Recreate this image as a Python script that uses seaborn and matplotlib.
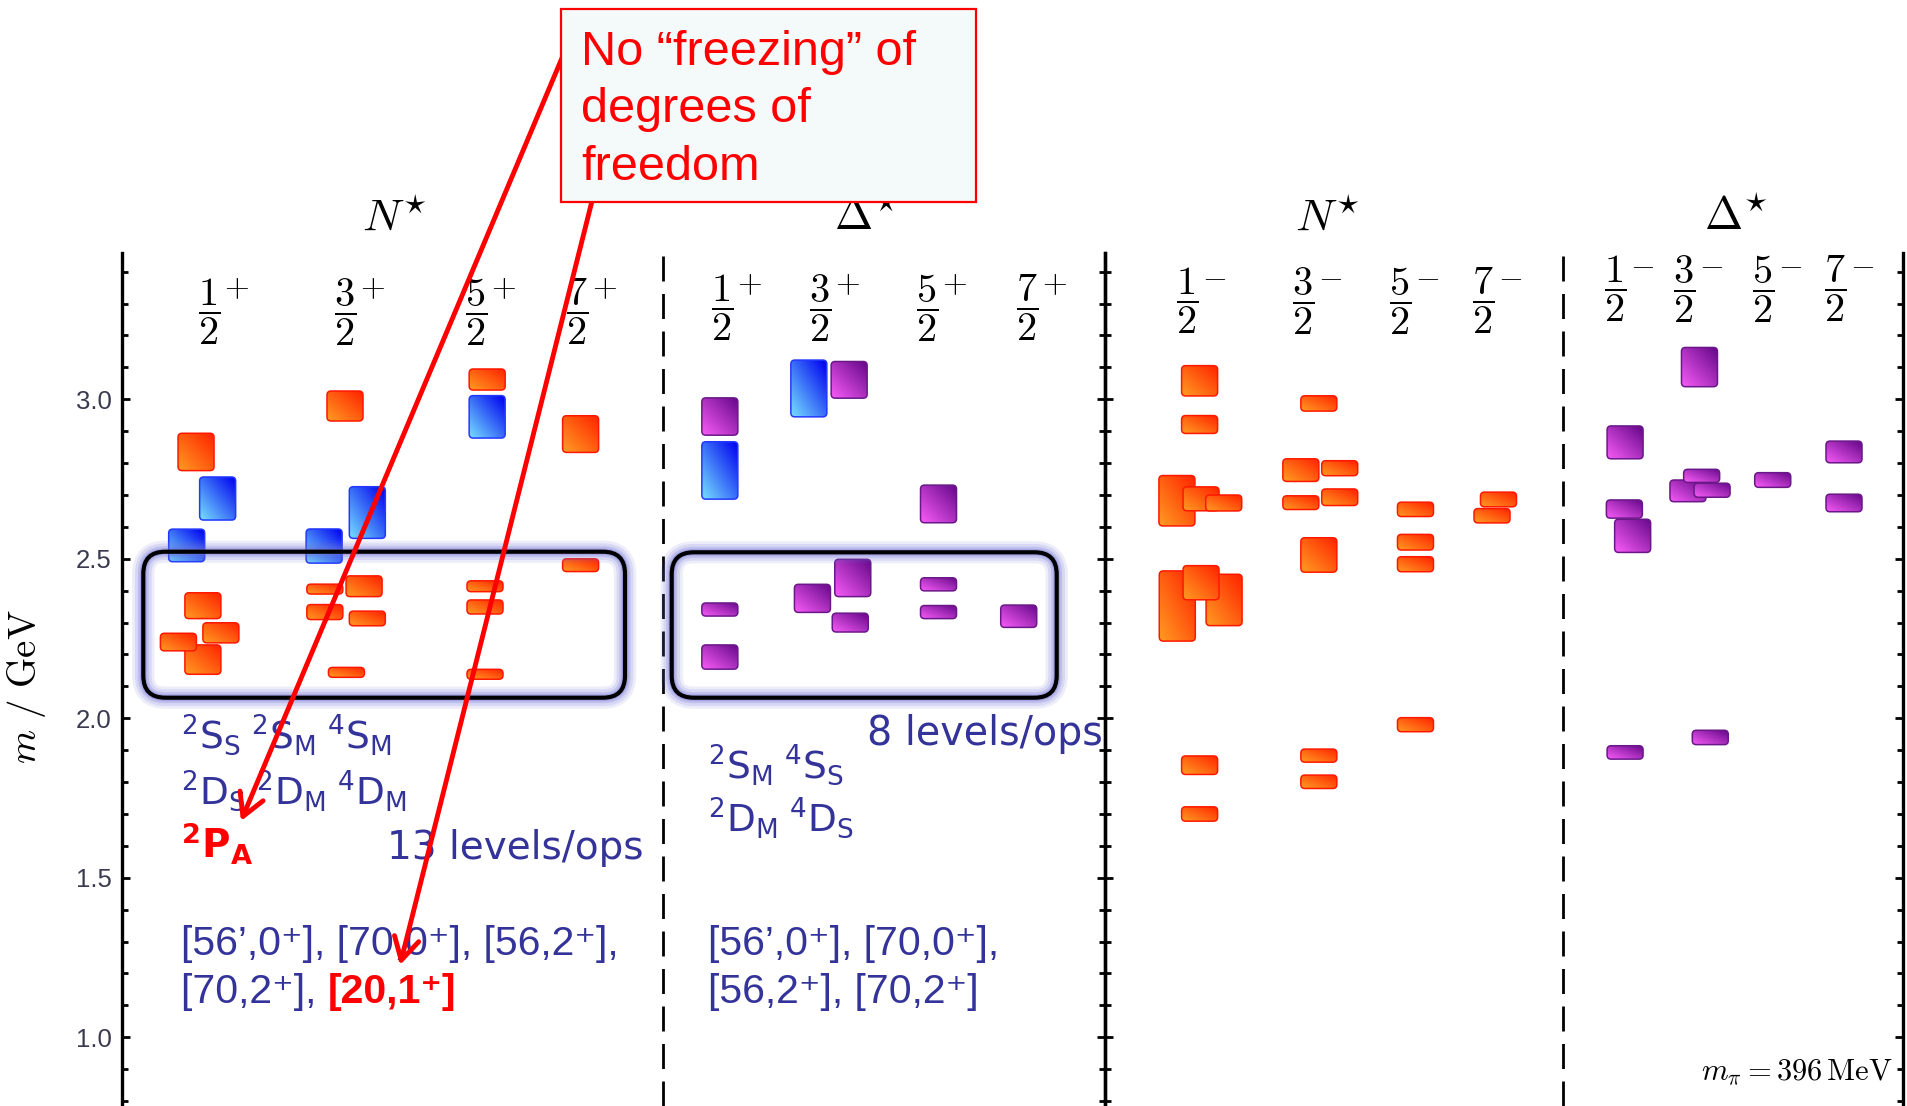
import numpy as np
import matplotlib
matplotlib.use("Agg")
import matplotlib.pyplot as plt
from matplotlib.patches import FancyBboxPatch, FancyArrowPatch, Rectangle
from matplotlib.colors import LinearSegmentedColormap
from matplotlib.ticker import MultipleLocator
import seaborn as sns

sns.set_theme(style="white")
plt.rcParams["font.family"] = ["DejaVu Sans"]
plt.rcParams["mathtext.fontset"] = "custom"
plt.rcParams["mathtext.rm"] = "DejaVu Sans"
plt.rcParams["mathtext.it"] = "DejaVu Sans:italic"
plt.rcParams["mathtext.bf"] = "DejaVu Sans:bold"

# ---------------------------------------------------------------------------
# Excited-baryon spectrum (m_pi = 396 MeV).
# col  : spin column, 0..3 -> J = 1/2, 3/2, 5/2, 7/2
# lane : sideways shift inside the column (in box widths) to keep bands apart
# mass : level mass in GeV, band : full vertical extent of the band in GeV
# kind : N = nucleon-like, D = Delta-like, H = hybrid-dominated level
# ---------------------------------------------------------------------------
npos_col = [0, 0, 0, 0, 0, 0, 0, 1, 1, 1, 1, 1, 1, 1, 1, 2, 2, 2, 2, 2, 3, 3]
npos_lane = [-0.36, 0.24, -0.62, -0.17, 0.33, -0.17, -0.85,
             0.00, 0.62, -0.58, 0.53, -0.56, -0.56, 0.62, 0.04,
             0.31, 0.31, 0.25, 0.25, 0.25, 0.10, 0.10]
npos_mass = [2.835, 2.689, 2.542, 2.353, 2.268, 2.184, 2.239,
             2.979, 2.645, 2.540, 2.414, 2.405, 2.333, 2.313, 2.144,
             3.062, 2.945, 2.414, 2.349, 2.138, 2.891, 2.480]
npos_band = [0.117, 0.135, 0.102, 0.081, 0.063, 0.092, 0.055,
             0.094, 0.162, 0.107, 0.065, 0.031, 0.047, 0.046, 0.031,
             0.066, 0.133, 0.034, 0.044, 0.031, 0.115, 0.040]
npos_kind = list("NHHNNNN" "NHHNNNNN" "NHNNN" "NN")

dpos_col = [0, 0, 0, 0, 1, 1, 1, 1, 1, 2, 2, 2, 3]
dpos_lane = [-0.06, -0.06, -0.06, -0.06, -0.31, 0.81, 0.91, -0.21, 0.84,
             0.32, 0.32, 0.32, -0.23]
dpos_mass = [2.946, 2.777, 2.341, 2.192, 3.034, 3.061, 2.440, 2.376, 2.300,
             2.672, 2.420, 2.333, 2.320]
dpos_band = [0.117, 0.180, 0.041, 0.076, 0.178, 0.115, 0.117, 0.088, 0.059,
             0.118, 0.041, 0.041, 0.070]
dpos_kind = list("DHDD" "HDDDD" "DDD" "D")

nneg_col = [0] * 10 + [1] * 8 + [2] * 4 + [3] * 2
nneg_lane = [0.35, 0.35, -0.28, 0.39, 1.02, -0.27, 1.03, 0.39, 0.35, 0.35,
             0.44, -0.06, 1.02, -0.06, 1.02, 0.44, 0.44, 0.44,
             0.43, 0.43, 0.43, 0.43, 0.25, 0.43]
nneg_mass = [3.058, 2.921, 2.682, 2.688, 2.675, 2.352, 2.371, 2.425, 1.853, 1.700,
             2.987, 2.778, 2.784, 2.676, 2.693, 2.512, 1.883, 1.801,
             2.655, 2.552, 2.483, 1.980, 2.635, 2.686]
nneg_band = [0.095, 0.056, 0.158, 0.075, 0.050, 0.220, 0.161, 0.107, 0.058, 0.045,
             0.048, 0.071, 0.047, 0.043, 0.052, 0.108, 0.041, 0.042,
             0.045, 0.049, 0.047, 0.044, 0.045, 0.046]
nneg_kind = ["N"] * 24

dneg_col = [0, 0, 0, 0, 1, 1, 1, 1, 1, 2, 3, 3]
dneg_lane = [0.28, 0.26, 0.49, 0.28, 0.43, 0.11, 0.49, 0.78, 0.73, 0.27, 0.25, 0.25]
dneg_mass = [2.865, 2.656, 2.572, 1.893, 3.101, 2.713, 2.760, 2.715, 1.940,
             2.747, 2.835, 2.675]
dneg_band = [0.103, 0.057, 0.104, 0.042, 0.123, 0.068, 0.041, 0.044, 0.045,
             0.046, 0.068, 0.055]
dneg_kind = ["D"] * 12

spin_labels = ["1", "3", "5", "7"]
panel_names = [r"$N^{\star}$", r"$\Delta^{\star}$", r"$N^{\star}$", r"$\Delta^{\star}$"]
panel_parity = ["+", "+", "-", "-"]
tick_values = [1.0, 1.5, 2.0, 2.5, 3.0]

# ---------------------------------------------------------------------------
# page geometry (pixels) and the vertical mass scale
# ---------------------------------------------------------------------------
W, H, DPI = 1907, 1106, 100
PX_PER_GEV = 319.0
Y_AT_3GEV = 399.3


def mass_at(ypx):
    return 3.0 - (ypx - Y_AT_3GEV) / PX_PER_GEV


M_LOW = mass_at(H)
M_FIG_TOP = mass_at(0)
M_AXIS_TOP = mass_at(253)
BOX_W = 36.0
AX_LEFT, AX_MID, AX_RIGHT = 121.7, 1105.0, 1903.0
DASH_X = [663.0, 1562.7]

col_x = [[209, 345, 476, 577], [722, 820, 927, 1027],
         [1187, 1303, 1400, 1483], [1615, 1684, 1763, 1835]]
label_y = [312, 308, 301, 289]
header_x = [395, 866, 1328, 1736]

palette = {
    "N": ("#ff9a22", "#ff2400", "#ff1800"),
    "H": ("#74dcff", "#0000f0", "#2238ff"),
    "D": ("#f65af6", "#66088a", "#6a1888"),
}
cmaps = {k: LinearSegmentedColormap.from_list(k, [v[0], v[1]]) for k, v in palette.items()}

fig = plt.figure(figsize=(W / DPI, H / DPI), dpi=DPI)
fig.patch.set_facecolor("white")

# frame axes carrying the mass scale
axes_frames = []
for x0, x1, left_labels in [(AX_LEFT, AX_MID, True), (AX_MID, AX_RIGHT, False)]:
    fa = fig.add_axes([x0 / W, 0, (x1 - x0) / W, (H - 253) / H], zorder=0)
    fa.set_facecolor("none")
    fa.set_ylim(M_LOW, M_AXIS_TOP)
    fa.set_xticks([])
    fa.yaxis.set_major_locator(MultipleLocator(0.5))
    fa.yaxis.set_minor_locator(MultipleLocator(0.1))
    for s in ["top", "bottom"]:
        fa.spines[s].set_visible(False)
    for s in ["left", "right"]:
        fa.spines[s].set_visible(True)
        fa.spines[s].set_color("black")
        fa.spines[s].set_linewidth(2.4)
    fa.tick_params(axis="y", which="major", direction="in", left=True, right=True,
                   length=6, width=2.0, color="black", labelleft=left_labels,
                   labelright=False, pad=7, labelsize=18.5, labelcolor="#3a3a50")
    fa.tick_params(axis="y", which="minor", direction="in", left=True, right=True,
                   length=4, width=2.0, color="black")
    fa.set_yticks(tick_values)
    fa.set_yticklabels([f"{v:.1f}" for v in tick_values])
    for lab in fa.get_yticklabels():
        lab.set_family(["Liberation Sans", "DejaVu Sans"])
    fa.grid(False)
    axes_frames.append(fa)

# overlay axes in page pixels (x) and GeV (y)
ax = fig.add_axes([0, 0, 1, 1], zorder=1)
ax.set_autoscale_on(False)
ax.set_xlim(0, W)
ax.set_ylim(M_LOW, M_FIG_TOP)
ax.axis("off")

# dashed separators between N* and Delta*
for xd in DASH_X:
    ax.plot([xd, xd], [M_LOW, mass_at(249)], color="black", lw=2.0,
            dashes=(9, 4.5), zorder=2)

# level bands with diagonal colour gradient
grad = np.add.outer(np.linspace(0, 1, 24), np.linspace(0, 1, 24)) / 2.0
z = 5
groups = [(0, npos_col, npos_lane, npos_mass, npos_band, npos_kind),
          (1, dpos_col, dpos_lane, dpos_mass, dpos_band, dpos_kind),
          (2, nneg_col, nneg_lane, nneg_mass, nneg_band, nneg_kind),
          (3, dneg_col, dneg_lane, dneg_mass, dneg_band, dneg_kind)]
for p, cols, lanes, masses, bands, kinds in groups:
    for c, ln, m, b, k in zip(cols, lanes, masses, bands, kinds):
        xc = col_x[p][c] + ln * BOX_W
        x0 = xc - BOX_W / 2
        y0 = m - b / 2
        patch = FancyBboxPatch((x0, y0), BOX_W, b,
                               boxstyle="round,pad=0,rounding_size=4",
                               mutation_aspect=1 / PX_PER_GEV,
                               facecolor="none", edgecolor=palette[k][2],
                               lw=1.1, zorder=z + 1)
        ax.add_patch(patch)
        im = ax.imshow(grad, cmap=cmaps[k], origin="lower", aspect="auto",
                       extent=[x0, x0 + BOX_W, y0, y0 + b], interpolation="bilinear",
                       zorder=z, vmin=0, vmax=1)
        im.set_clip_path(patch)
        z += 2

# rounded frames around the lowest band of positive-parity levels
for fx0, fx1, fy0, fy1 in [(143.3, 625.0, 551.7, 697.7), (671.7, 1056.7, 552.3, 697.7)]:
    mb, mt = mass_at(fy1), mass_at(fy0)
    for lw, a in [(16, 0.12), (12, 0.16), (8, 0.22), (5, 0.3)]:
        ax.add_patch(FancyBboxPatch((fx0, mb), fx1 - fx0, mt - mb,
                                    boxstyle="round,pad=0,rounding_size=22",
                                    mutation_aspect=1 / PX_PER_GEV, facecolor="none",
                                    edgecolor="#6d6dd8", lw=lw, alpha=a, zorder=300))
    ax.add_patch(FancyBboxPatch((fx0, mb), fx1 - fx0, mt - mb,
                                boxstyle="round,pad=0,rounding_size=22",
                                mutation_aspect=1 / PX_PER_GEV, facecolor="none",
                                edgecolor="black", lw=3.0, zorder=301))

# panel headers and J^P column labels
for p in range(4):
    ax.text(header_x[p], mass_at(218), panel_names[p], math_fontfamily="cm",
            fontsize=33, ha="center", va="center", color="black", zorder=10)
    for c in range(4):
        xc = col_x[p][c]
        ax.text(xc, mass_at(label_y[p]), r"$\dfrac{%s}{2}$" % spin_labels[c],
                math_fontfamily="cm", fontsize=29, ha="center", va="center",
                color="black", zorder=10)
        sign = r"$+$" if panel_parity[p] == "+" else r"$-$"
        ax.text(xc + 27, mass_at(label_y[p] - 24), sign, math_fontfamily="cm",
                fontsize=23, ha="center", va="center", color="black", zorder=10)

# axis title and pion-mass note
ax.text(27, mass_at(687), r"$m\ /\ \mathrm{GeV}$", math_fontfamily="cm", fontsize=28,
        rotation=90, ha="center", va="center", color="black")
ax.text(1893, mass_at(1080), r"$m_{\pi} = 396\,\mathrm{MeV}$", math_fontfamily="cm",
        fontsize=22, ha="right", va="baseline", color="black")

# operator content annotations
BLUE = "#33339a"
RED = "#ff0000"
ax.text(181, mass_at(748),
        r"${}^{2}\mathrm{S}_{\mathrm{S}}\;{}^{2}\mathrm{S}_{\mathrm{M}}\;{}^{4}\mathrm{S}_{\mathrm{M}}$",
        fontsize=27, color=BLUE, ha="left", va="baseline", zorder=20)
ax.text(181, mass_at(804),
        r"${}^{2}\mathrm{D}_{\mathrm{S}}\;{}^{2}\mathrm{D}_{\mathrm{M}}\;{}^{4}\mathrm{D}_{\mathrm{M}}$",
        fontsize=27, color=BLUE, ha="left", va="baseline", zorder=20)
ax.text(181, mass_at(858), r"${}^{\mathbf{2}}\mathbf{P}_{\mathbf{A}}$",
        fontsize=28, color=RED, ha="left", va="baseline", zorder=20)
ax.text(387, mass_at(859), "13 levels/ops", fontsize=28, color=BLUE,
        ha="left", va="baseline", zorder=20)
ax.text(181, mass_at(955), "[56\u2019,0\u207a], [70,0\u207a], [56,2\u207a],",
        family=["Liberation Sans", "DejaVu Sans"], fontsize=29.5, color=BLUE,
        ha="left", va="baseline", zorder=20)
ax.text(181, mass_at(1003), "[70,2\u207a], ",
        family=["Liberation Sans", "DejaVu Sans"], fontsize=29.5, color=BLUE,
        ha="left", va="baseline", zorder=20)
ax.text(328, mass_at(1003), "[20,1\u207a]",
        family=["Liberation Sans", "DejaVu Sans"], fontsize=29.5, color=RED,
        fontweight="bold", ha="left", va="baseline", zorder=20)

ax.text(867, mass_at(745), "8 levels/ops", fontsize=28.5, color=BLUE,
        ha="left", va="baseline", zorder=20)
ax.text(708, mass_at(778),
        r"${}^{2}\mathrm{S}_{\mathrm{M}}\;{}^{4}\mathrm{S}_{\mathrm{S}}$",
        fontsize=27, color=BLUE, ha="left", va="baseline", zorder=20)
ax.text(708, mass_at(831),
        r"${}^{2}\mathrm{D}_{\mathrm{M}}\;{}^{4}\mathrm{D}_{\mathrm{S}}$",
        fontsize=27, color=BLUE, ha="left", va="baseline", zorder=20)
ax.text(708, mass_at(955), "[56\u2019,0\u207a], [70,0\u207a],",
        family=["Liberation Sans", "DejaVu Sans"], fontsize=29.5, color=BLUE,
        ha="left", va="baseline", zorder=20)
ax.text(708, mass_at(1003), "[56,2\u207a], [70,2\u207a]",
        family=["Liberation Sans", "DejaVu Sans"], fontsize=29.5, color=BLUE,
        ha="left", va="baseline", zorder=20)

# callout box with arrows
for (xa, ya), (xb, yb) in [((562, 58), (241, 821)), ((592, 201), (400, 965))]:
    ax.add_patch(FancyArrowPatch((xa, mass_at(ya)), (xb, mass_at(yb)),
                                 arrowstyle="->,head_length=0.8,head_width=0.45",
                                 mutation_scale=20, lw=3.5, color=RED,
                                 shrinkA=0, shrinkB=0, zorder=400))
ax.add_patch(Rectangle((561, mass_at(202)), 976 - 561, mass_at(9) - mass_at(202),
                       facecolor="#f4fafa", edgecolor=RED, lw=1.6, zorder=410))
for txt, yb in [("No \u201cfreezing\u201d of", 65), ("degrees of", 122), ("freedom", 180)]:
    ax.text(581, mass_at(yb), txt, family=["Liberation Sans", "DejaVu Sans"],
            fontsize=35, color=RED, ha="left", va="baseline", zorder=420)

fig.savefig("out.png", dpi=DPI, facecolor="white")
